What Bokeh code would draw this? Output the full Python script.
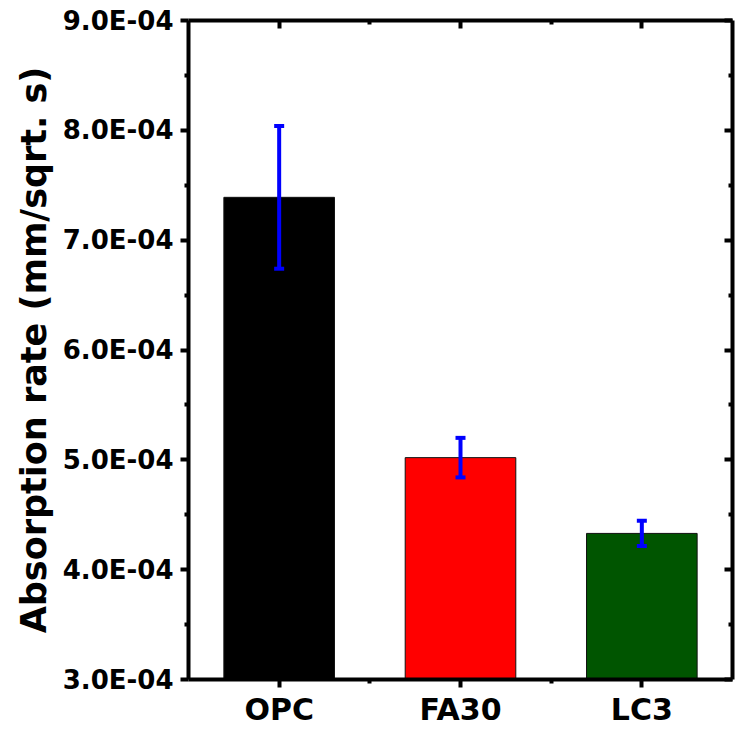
from bokeh.plotting import figure
from bokeh.models import (ColumnDataSource, Range1d, LinearAxis, FixedTicker,
                          CustomJSTickFormatter, Whisker, TeeHead)
from bokeh.embed import file_html
from bokeh.resources import INLINE

# ---- data ----
categories = ["OPC", "FA30", "LC3"]
rates = [7.39e-4, 5.02e-4, 4.33e-4]
errors = [0.65e-4, 0.18e-4, 0.115e-4]
colors = ["#000000", "#FF0000", "#005500"]
y_ticks = [3e-4, 4e-4, 5e-4, 6e-4, 7e-4, 8e-4, 9e-4]
y_minor = [3.5e-4, 4.5e-4, 5.5e-4, 6.5e-4, 7.5e-4, 8.5e-4]

FONT = "DejaVu Sans"

xpos = list(range(1, len(categories) + 1))
src = ColumnDataSource(dict(
    x=xpos, cat=categories, y=rates, color=colors,
    upper=[r + e for r, e in zip(rates, errors)],
    lower=[r - e for r, e in zip(rates, errors)],
))

p = figure(width=736, height=729, output_backend="svg", toolbar_location=None,
           x_range=Range1d(0.5, len(categories) + 0.5), y_range=Range1d(3e-4, 9e-4),
           min_border_left=188, min_border_top=20, min_border_right=4,
           min_border_bottom=48)
p.grid.visible = False
p.outline_line_color = None
p.background_fill_color = "white"
p.border_fill_color = "white"

p.vbar(x="x", top="y", bottom=0, width=0.61, fill_color="color",
       line_color="#111111", line_width=1, source=src)

w = Whisker(base="x", upper="upper", lower="lower", source=src,
            line_color="#0000FF", line_width=4, level="overlay",
            upper_head=TeeHead(size=10, line_color="#0000FF", line_width=4),
            lower_head=TeeHead(size=10, line_color="#0000FF", line_width=4))
p.add_layout(w)

x_major = [float(x) for x in xpos]
x_minor = [x + 0.5 for x in xpos[:-1]]

fmt = CustomJSTickFormatter(code="""
const s = tick.toExponential(1).toUpperCase();
const m = s.split('E');
let e = parseInt(m[1]);
const sign = e < 0 ? '-' : '+';
e = Math.abs(e);
return m[0] + 'E' + sign + (e < 10 ? '0' + e : '' + e);
""")
blank = CustomJSTickFormatter(code="return '';")

def style_axis(ax):
    ax.axis_line_width = 4
    ax.axis_line_color = "black"
    ax.major_tick_line_width = 4
    ax.minor_tick_line_width = 4
    ax.major_tick_line_color = "black"
    ax.minor_tick_line_color = "black"

# bottom axis
xa = p.xaxis[0]
xa.ticker = FixedTicker(ticks=x_major, minor_ticks=x_minor)
xa.major_label_overrides = {x: c for x, c in zip(x_major, categories)}
xa.major_tick_out = 8
xa.major_tick_in = 0
xa.minor_tick_out = 4
xa.minor_tick_in = 0
xa.major_label_standoff = 4
xa.major_label_text_font = FONT
xa.major_label_text_font_style = "bold"
xa.major_label_text_font_size = "30px"
xa.major_label_text_color = "black"
style_axis(xa)

# left axis
ya = p.yaxis[0]
ya.ticker = FixedTicker(ticks=y_ticks, minor_ticks=y_minor)
ya.formatter = fmt
ya.major_tick_out = 8
ya.major_tick_in = 0
ya.minor_tick_out = 4
ya.minor_tick_in = 0
ya.major_label_standoff = 7
ya.major_label_text_font = FONT
ya.major_label_text_font_style = "bold"
ya.major_label_text_font_size = "26px"
ya.major_label_text_color = "black"
ya.axis_label = "Absorption rate (mm/sqrt. s)"
ya.axis_label_text_font = FONT
ya.axis_label_text_font_style = "bold"
ya.axis_label_text_font_size = "35px"
ya.axis_label_text_color = "black"
ya.axis_label_standoff = 6
style_axis(ya)

# top mirror axis
ta = LinearAxis(ticker=FixedTicker(ticks=x_major, minor_ticks=x_minor),
                formatter=blank, major_label_standoff=0, axis_label_standoff=0,
                major_tick_in=8, major_tick_out=0,
                minor_tick_in=4, minor_tick_out=0)
style_axis(ta)
p.add_layout(ta, "above")

# right mirror axis
ra = LinearAxis(ticker=FixedTicker(ticks=y_ticks, minor_ticks=y_minor),
                formatter=blank, major_label_standoff=0, axis_label_standoff=0,
                major_tick_in=8, major_tick_out=0,
                minor_tick_in=4, minor_tick_out=0)
style_axis(ra)
p.add_layout(ra, "right")

open("out.html", "w").write(file_html(p, INLINE))
